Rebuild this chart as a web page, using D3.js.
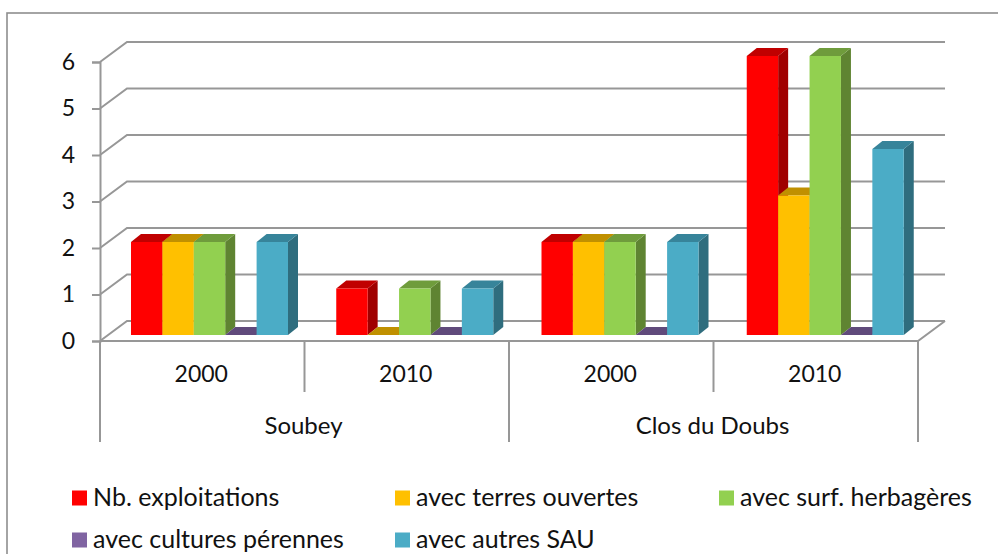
<!DOCTYPE html>
<html>
<head>
<meta charset="utf-8">
<script src="https://cdn.jsdelivr.net/npm/d3@7"></script>
<style>
html, body { margin: 0; padding: 0; background: #fff; }
svg { display: block; }
text { font-family: Lato, "Noto Sans", sans-serif; fill: #111; }
</style>
</head>
<body>
<div id="chart"></div>
<script>
/************************************ Data *******************************/
var places = ["Soubey", "Clos du Doubs"];
var years = ["2000", "2010", "2000", "2010"];
var yTicks = [0, 1, 2, 3, 4, 5, 6];

var exploitations = [2, 1, 2, 6];
var terresOuvertes = [2, 0, 2, 3];
var surfHerbageres = [2, 1, 2, 6];
var culturesPerennes = [0, 0, 0, 0];
var autresSau = [2, 1, 2, 4];

var seriesNames = ["Nb. exploitations", "avec terres ouvertes", "avec surf. herbagères", "avec cultures pérennes", "avec autres SAU"];
var seriesValues = [exploitations, terresOuvertes, surfHerbageres, culturesPerennes, autresSau];
var frontColors = ["#ff0000", "#ffc000", "#92d050", "#8064a2", "#4bacc6"];
var topColors = ["#c00000", "#c09000", "#6f9c3c", "#604a7b", "#37849a"];
var sideColors = ["#a00000", "#a07800", "#5f8432", "#503d68", "#2f6d7e"];

/************************************ Layout *******************************/
var width = 998, height = 554;
var plotLeft = 100, plotRight = 918, floorY = 341;
var wallDx = 27, wallDy = 20;   // floor depth
var barDx = 10, barDy = 8;      // bar depth
var gray = "#979797";

var svg = d3.select("#chart").append("svg").attr("width", width).attr("height", height);

// outer frame
svg.append("rect").attr("x", 7).attr("y", 13).attr("width", 1000).attr("height", 560)
	.attr("fill", "none").attr("stroke", "#8e8e8e").attr("stroke-width", 1.6);

var x = d3.scaleBand().domain(d3.range(years.length)).range([plotLeft, plotRight]);
// bars step very slightly wider than the axis categories in the picture
var xGroup = d3.scaleBand().domain(d3.range(years.length)).range([plotLeft, plotLeft + 821]);
var xBar = d3.scaleBand().domain(d3.range(seriesNames.length)).range([0, 157]);
var barInset = 31;
var y = d3.scaleLinear().domain([0, 6]).range([floorY, floorY - 279]);
var barBase = floorY - 6;   // bars stand a little behind the front edge of the floor

/************************************ Walls and axes *******************************/
var grid = svg.append("g").attr("fill", "none").attr("stroke", gray).attr("stroke-width", 2);
grid.selectAll("path").data(yTicks).enter().append("path")
	.attr("d", function(d) {
		var p = d3.path();
		p.moveTo(plotLeft, y(d));
		p.lineTo(plotLeft + wallDx, y(d) - wallDy);
		p.lineTo(plotRight + wallDx, y(d) - wallDy);
		return p.toString();
	});

// floor front and right edge
var floor = d3.path();
floor.moveTo(plotLeft, floorY);
floor.lineTo(plotRight, floorY);
floor.lineTo(plotRight + wallDx, floorY - wallDy);
grid.append("path").attr("d", floor.toString());

var yAxis = d3.axisLeft(y).tickValues(yTicks).tickSize(8).tickPadding(17).tickFormat(d3.format("d"));
var gy = svg.append("g").attr("transform", "translate(" + plotLeft + ",0)").call(yAxis);
gy.selectAll("path,line").attr("stroke", gray).attr("stroke-width", 2);
gy.selectAll("text").style("font-size", "23px").attr("fill", "#111");

// category separators, long ones between places
var seps = svg.append("g").attr("stroke", gray).attr("stroke-width", 2);
d3.range(years.length + 1).forEach(function(i) {
	var px = i < years.length ? x(i) : plotRight;
	seps.append("line").attr("x1", px).attr("x2", px).attr("y1", floorY)
		.attr("y2", i % 2 === 0 ? 442 : 392);
});

svg.append("g").selectAll("text").data(years).enter().append("text")
	.attr("x", function(d, i) { return x(i) + x.bandwidth() / 2 - 1; })
	.attr("y", 382).attr("text-anchor", "middle").style("font-size", "23px")
	.text(function(d) { return d; });

svg.append("g").selectAll("text").data(places).enter().append("text")
	.attr("x", function(d, i) { return x(i * 2) + x.bandwidth() - 1; })
	.attr("y", 434).attr("text-anchor", "middle").style("font-size", "24px")
	.text(function(d) { return d; });

/************************************ Bars *******************************/
function poly(points) {
	return points.map(function(p) { return p.join(","); }).join(" ");
}

years.forEach(function(year, g) {
	var group = svg.append("g");
	seriesValues.forEach(function(values, s) {
		var x0 = xGroup(g) + barInset + xBar(s);
		var x1 = x0 + xBar.bandwidth();
		var top = barBase - (floorY - y(values[g]));
		// side, top, front
		group.append("polygon")
			.attr("points", poly([[x1, barBase], [x1 + barDx, barBase - barDy], [x1 + barDx, top - barDy], [x1, top]]))
			.attr("fill", sideColors[s]);
		group.append("polygon")
			.attr("points", poly([[x0, top], [x0 + barDx, top - barDy], [x1 + barDx, top - barDy], [x1, top]]))
			.attr("fill", topColors[s]);
		group.append("rect")
			.attr("x", x0).attr("y", top).attr("width", xBar.bandwidth()).attr("height", barBase - top)
			.attr("fill", frontColors[s]);
	});
});

/************************************ Legend *******************************/
var legendX = [72, 395, 719, 72, 395];
var legendY = [498, 498, 498, 540, 540];
var legend = svg.append("g").selectAll("g").data(seriesNames).enter().append("g")
	.attr("transform", function(d, i) { return "translate(" + legendX[i] + "," + legendY[i] + ")"; });
legend.append("rect").attr("x", 0).attr("y", -7.5).attr("width", 15).attr("height", 15)
	.attr("fill", function(d, i) { return frontColors[i]; });
legend.append("text").attr("x", 21).attr("y", 8).style("font-size", "25px")
	.text(function(d) { return d; });
</script>
</body>
</html>
